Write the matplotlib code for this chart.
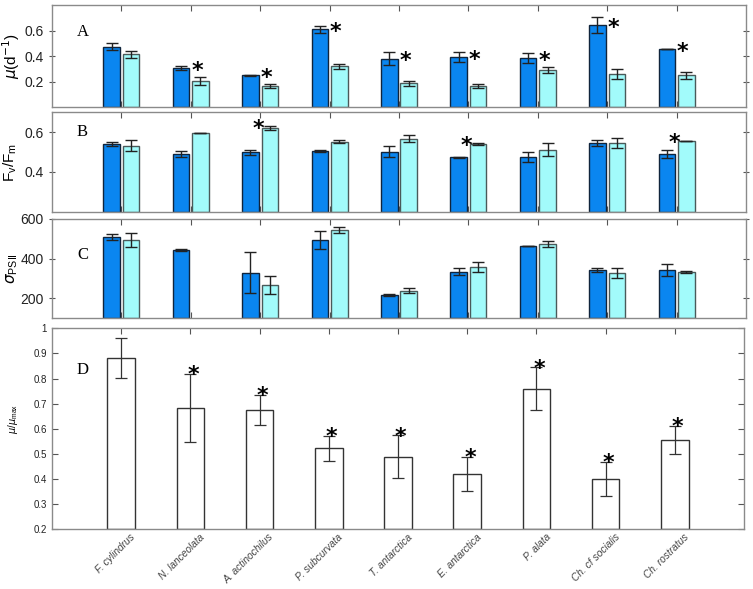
import numpy as np
import matplotlib
matplotlib.use("Agg")
import matplotlib.pyplot as plt
from matplotlib.transforms import ScaledTranslation

species = ["F. cylindrus", "N. lanceolata", "A. actinochilus", "P. subcurvata",
           "T. antarctica", "E. antarctica", "P. alata", "Ch. cf socialis", "Ch. rostratus"]

# Panel A: growth rate mu (d^-1)
mu_dark = [0.473, 0.303, 0.248, 0.609, 0.379, 0.390, 0.382, 0.643, 0.452]
mu_dark_err = [0.028, 0.015, 0.005, 0.030, 0.050, 0.040, 0.040, 0.060, 0.0]
mu_light = [0.413, 0.204, 0.167, 0.320, 0.186, 0.165, 0.290, 0.259, 0.248]
mu_light_err = [0.028, 0.035, 0.015, 0.020, 0.020, 0.015, 0.020, 0.040, 0.025]
mu_star = [False, True, True, True, True, True, True, True, True]

# Panel B: Fv/Fm
fv_dark = [0.539, 0.490, 0.499, 0.505, 0.502, 0.474, 0.475, 0.544, 0.489]
fv_dark_err = [0.010, 0.017, 0.013, 0.005, 0.026, 0.003, 0.027, 0.015, 0.020]
fv_light = [0.532, 0.596, 0.623, 0.552, 0.566, 0.539, 0.512, 0.544, 0.554]
fv_light_err = [0.026, 0.0, 0.010, 0.007, 0.018, 0.005, 0.034, 0.026, 0.0]
fv_star = [False, False, True, False, False, True, False, False, True]

# Panel C: sigma PSII
sig_dark = [508, 444, 330, 494, 217, 335, 464, 343, 342]
sig_dark_err = [14, 5, 102, 47, 5, 17, 2, 8, 30]
sig_light = [494, np.nan, 266, 545, 239, 357, 474, 327, 332]
sig_light_err = [37, 0, 45, 17, 12, 25, 15, 24, 6]

# Panel D: mu / mu_max
ratio = [0.881, 0.684, 0.675, 0.522, 0.489, 0.419, 0.759, 0.400, 0.556]
ratio_err = [0.080, 0.135, 0.060, 0.050, 0.085, 0.068, 0.085, 0.068, 0.055]
ratio_star = [False, True, True, True, True, True, True, True, True]

DARK = "#0a86f0"
LIGHT = "#a2fbfb"
x = np.arange(1, len(species) + 1)
off = 0.14
w = 0.24

fig = plt.figure(figsize=(7.53, 5.89), dpi=100)
L, W = 0.069, 0.9217
axA = fig.add_axes([L, 0.8183, W, 0.1732])
axB = fig.add_axes([L, 0.6406, W, 0.1688])
axC = fig.add_axes([L, 0.4596, W, 0.1686])
axD = fig.add_axes([L, 0.1014, 0.919, 0.3413])

serif = "Liberation Serif"
sans = "Liberation Sans"

def style(ax, fs=10):
    ax.set_xlim(0, 10)
    ax.set_xticks(x)
    for s in ax.spines.values():
        s.set_color("#8a8a8a")
        s.set_linewidth(1.0)
    ax.tick_params(axis="both", direction="in", length=4, color="#555555",
                   top=True, right=True, labelsize=fs, labelcolor="#222222")
    ax.tick_params(axis="y", direction="inout", length=5)
    for t in ax.get_yticklabels():
        t.set_fontfamily(sans)

def pair(ax, d, de, l, le, bottom=0):
    ekw = dict(ecolor="#222222", elinewidth=1.0, capsize=4, capthick=1.0)
    ax.bar(x - off, np.array(d) - bottom, w, bottom=bottom, color=DARK,
           edgecolor="#10243c", linewidth=1.0, yerr=de, error_kw=ekw, zorder=2)
    ax.bar(x + off, np.array(l) - bottom, w, bottom=bottom, color=LIGHT,
           edgecolor="#4a5a5a", linewidth=1.0, yerr=le, error_kw=ekw, zorder=2)

STAR = dict(ha="center", va="center", fontsize=16, fontweight="bold",
            fontfamily="DejaVu Sans", zorder=5)

# Panel A
pair(axA, mu_dark, mu_dark_err, mu_light, mu_light_err)
axA.set_ylim(0, 0.8)
axA.set_yticks([0.2, 0.4, 0.6])
axA.set_yticklabels(["0.2", "0.4", "0.6"])
style(axA)
axA.set_xticklabels([])
for i, s in enumerate(mu_star):
    if s:
        axA.text(x[i] + 0.09, mu_dark[i] - 0.02, "*", **STAR)
axA.text(0.036, 0.735, "A", transform=axA.transAxes, fontsize=12, fontfamily=serif,
         va="center")
axA.set_ylabel(r"$\mu$(d$^{-1}$)", fontsize=11, fontfamily=sans)
axA.yaxis.set_label_coords(-0.043, 0.5)

# Panel B
pair(axB, fv_dark, fv_dark_err, fv_light, fv_light_err, bottom=0.2)
axB.set_ylim(0.2, 0.7)
axB.set_yticks([0.4, 0.6])
axB.set_yticklabels(["0.4", "0.6"])
style(axB)
axB.set_xticklabels([])
for i, s in enumerate(fv_star):
    if s:
        axB.text(x[i] - 0.03, fv_light[i] - 0.008, "*", **STAR)
axB.text(0.036, 0.80, "B", transform=axB.transAxes, fontsize=12, fontfamily=serif,
         va="center")
axB.set_ylabel(r"F$_\mathregular{v}$/F$_\mathregular{m}$", fontsize=11, fontfamily=sans)
axB.yaxis.set_label_coords(-0.047, 0.5)

# Panel C
pair(axC, sig_dark, sig_dark_err, sig_light, sig_light_err, bottom=100)
axC.set_ylim(100, 600)
axC.set_yticks([200, 400, 600])
axC.set_yticklabels(["200", "400", "600"])
style(axC)
axC.set_xticklabels([])
axC.text(0.036, 0.64, "C", transform=axC.transAxes, fontsize=12, fontfamily=serif,
         va="center")
axC.set_ylabel(r"$\sigma$$_\mathregular{PSII}$", fontsize=11, fontfamily=sans)
axC.yaxis.set_label_coords(-0.046, 0.5)

# Panel D
axD.bar(x, np.array(ratio) - 0.2, 0.4, bottom=0.2, color="white",
        edgecolor="#333333", linewidth=1.0, zorder=2)
axD.errorbar(x, ratio, yerr=ratio_err, fmt="none", ecolor="#333333",
             elinewidth=0.9, capsize=4, capthick=0.9, zorder=3)
axD.set_ylim(0.2, 1.0)
yt = [0.2, 0.3, 0.4, 0.5, 0.6, 0.7, 0.8, 0.9, 1.0]
axD.set_yticks(yt)
axD.set_yticklabels(["0.2", "0.3", "0.4", "0.5", "0.6", "0.7", "0.8", "0.9", "1"])
style(axD, fs=7)
axD.tick_params(axis="y", direction="in", length=4)
axD.set_xticklabels(species, rotation=45, ha="right", rotation_mode="anchor",
                    fontsize=7.3, fontstyle="italic", fontfamily=sans, color="#444444")
axD.tick_params(axis="x", pad=2)
shift = ScaledTranslation(9 / 100, 0, fig.dpi_scale_trans)
for lab in axD.get_xticklabels():
    lab.set_transform(lab.get_transform() + shift)
for i, s in enumerate(ratio_star):
    if s:
        axD.text(x[i] + 0.04, ratio[i] + ratio_err[i] - 0.005, "*", **STAR)
axD.text(0.036, 0.79, "D", transform=axD.transAxes, fontsize=12, fontfamily=serif,
         va="center")
axD.set_ylabel(r"$\mu$/$\mu$$_\mathregular{max}$", fontsize=7, fontfamily=sans)
axD.yaxis.set_label_coords(-0.046, 0.55)

fig.savefig("out.png", dpi=100)
